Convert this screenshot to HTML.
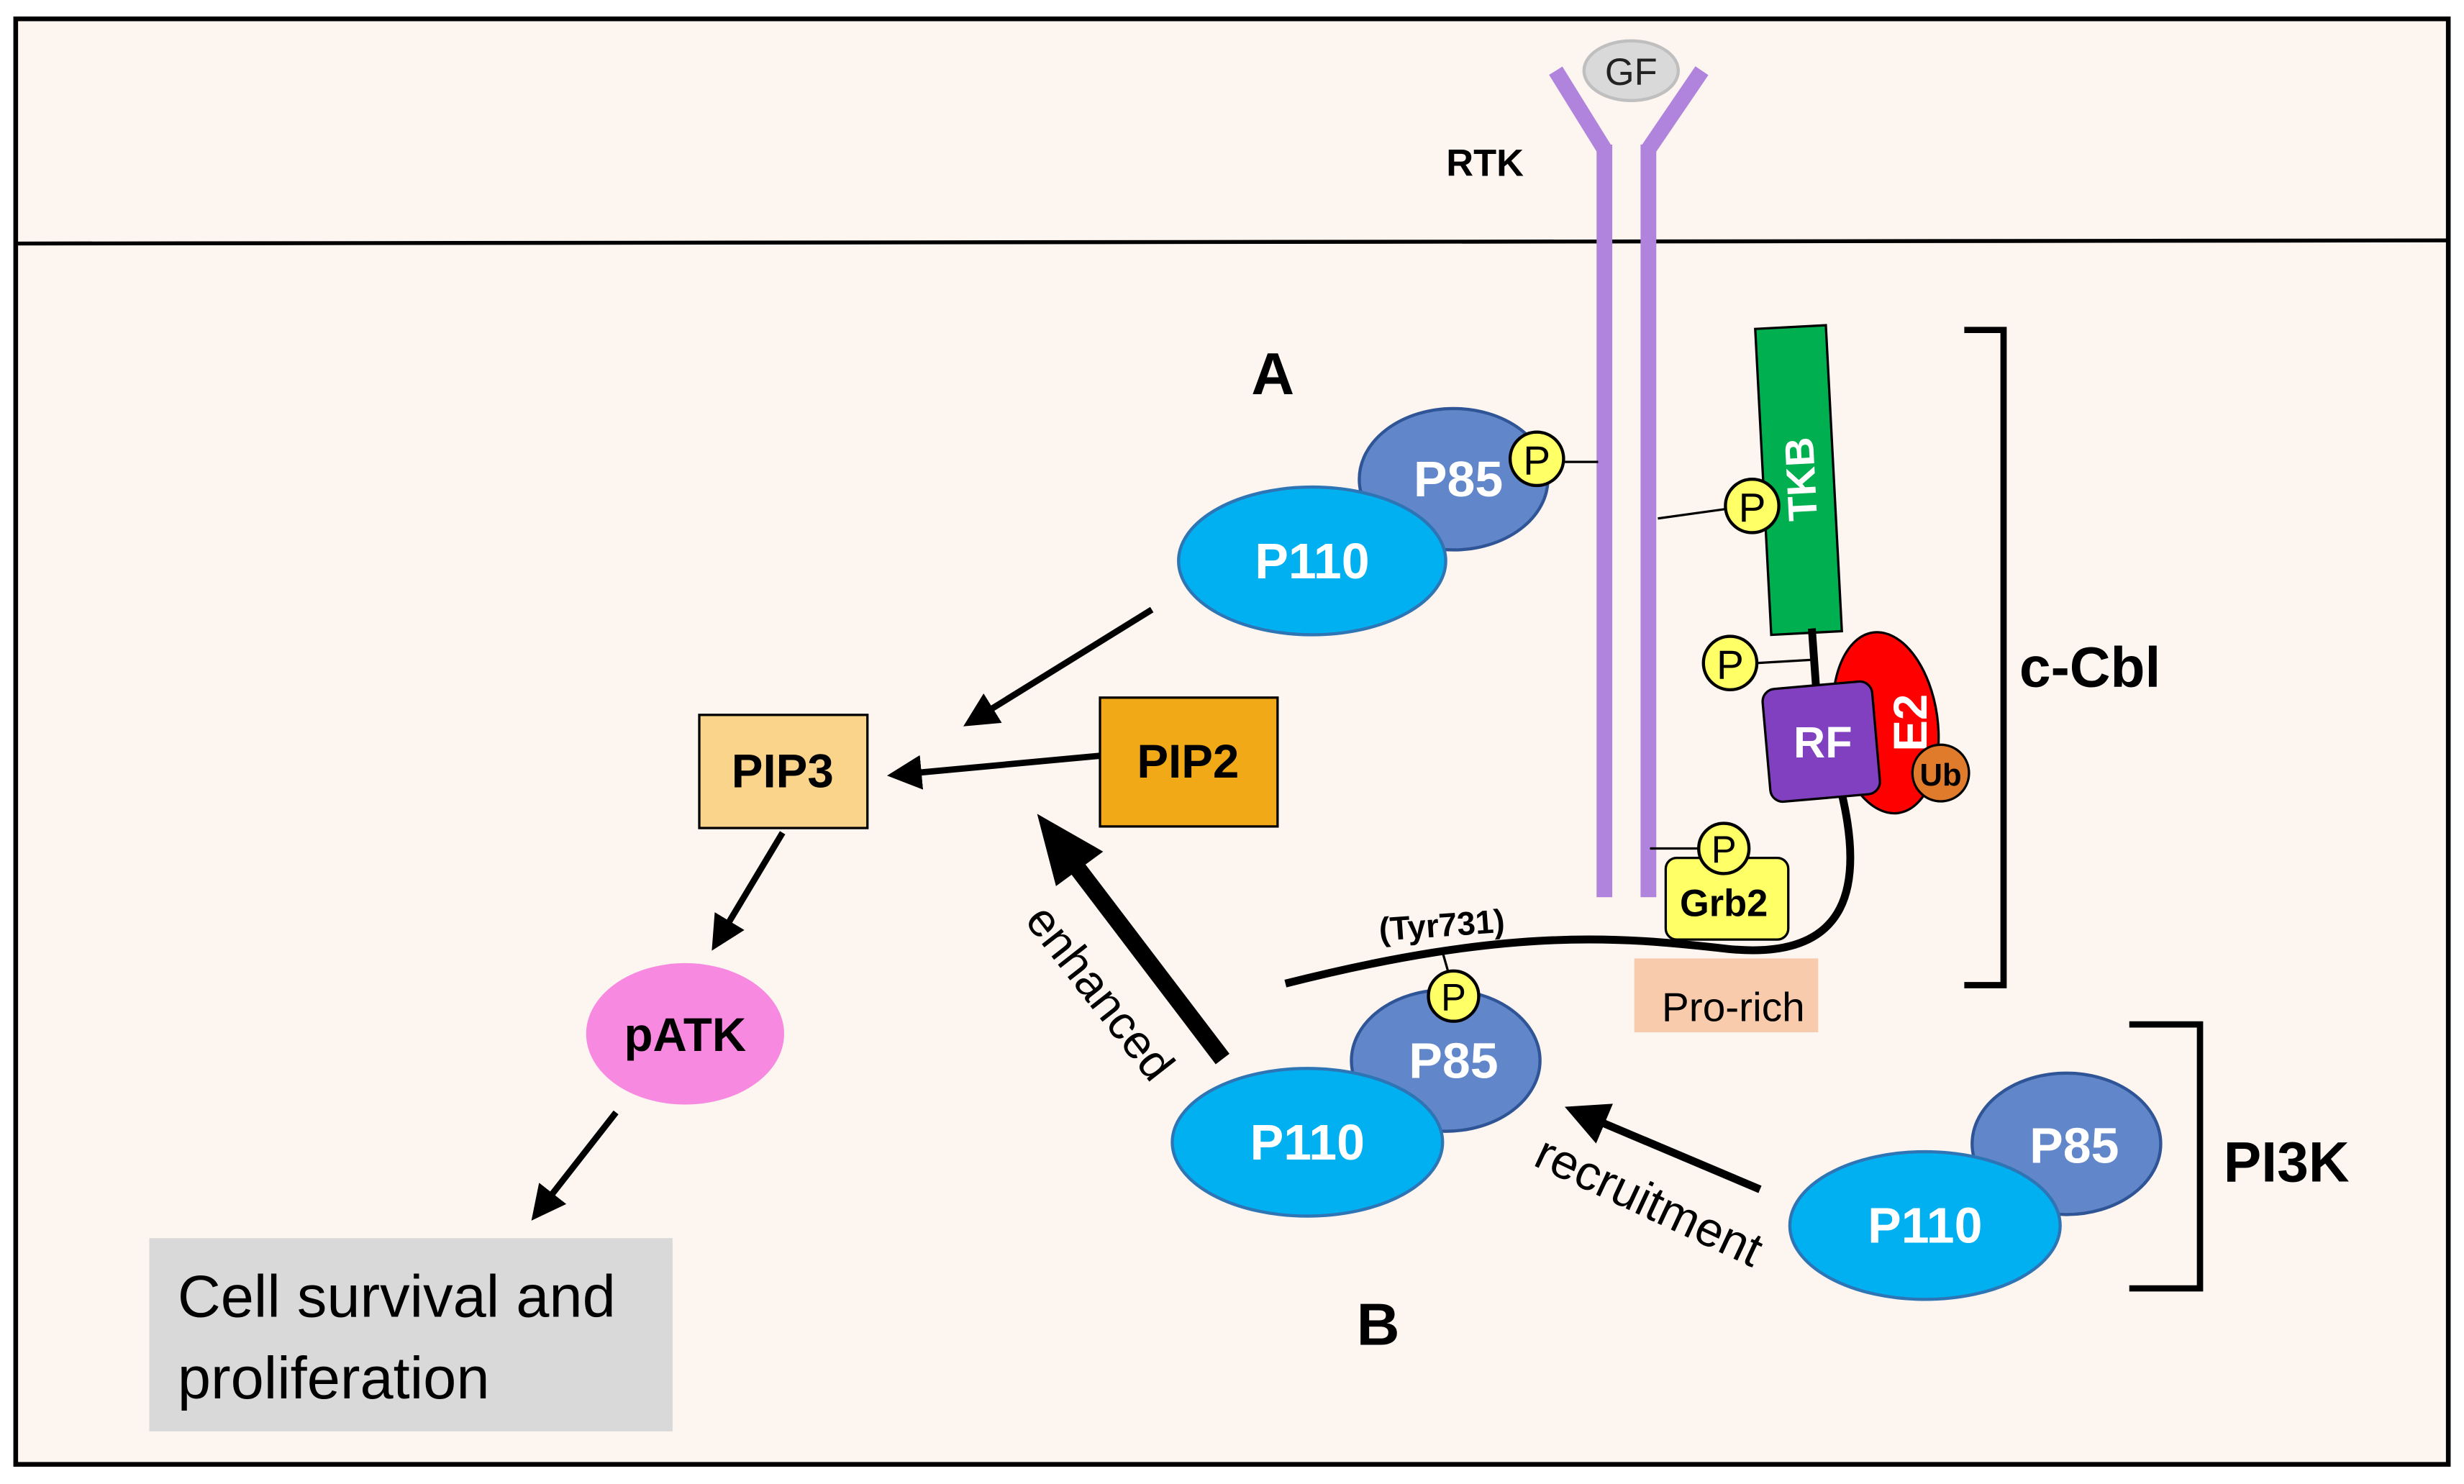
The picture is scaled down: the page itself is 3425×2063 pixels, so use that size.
<!DOCTYPE html>
<html><head><meta charset="utf-8"><style>
html,body{margin:0;padding:0;background:#fff;}
svg{display:block;}
text{font-family:"Liberation Sans Narrow","Liberation Sans",sans-serif;}
</style></head><body>
<svg width="3425" height="2063" viewBox="0 0 1568 944.5" preserveAspectRatio="none" xmlns="http://www.w3.org/2000/svg">
<defs>
<marker id="ah" viewBox="0 0 10 10" refX="2" refY="5" markerWidth="5.5" markerHeight="5.5" orient="auto" markerUnits="strokeWidth"><path d="M0,0L10,5L0,10z" fill="#000"/></marker>
</defs>
<rect x="0" y="0" width="1568" height="944.5" fill="#fff"/>
<rect x="10" y="12" width="1548" height="920" fill="#fdf5f0" stroke="#000" stroke-width="3"/>
<line x1="10" y1="155" x2="1558" y2="153" stroke="#000" stroke-width="2.5"/>

<g stroke="#b084dc" stroke-width="10" fill="none">
<line x1="1021" y1="92" x2="1021" y2="571"/>
<line x1="1049" y1="92" x2="1049" y2="571"/>
<polyline points="990,45 1021,95"/>
<polyline points="1083,45 1049,95"/>
</g>
<ellipse cx="1038" cy="45" rx="30" ry="19" fill="#d9d9d9" stroke="#bfbfbf" stroke-width="2"/>
<text x="1038" y="54" font-size="24" text-anchor="middle" fill="#222">GF</text>
<text x="945" y="112" font-size="24" font-weight="bold" text-anchor="middle">RTK</text>
<text x="810" y="251" font-size="38" font-weight="bold" text-anchor="middle">A</text>

<ellipse cx="925" cy="305" rx="60" ry="45" fill="#6186c9" stroke="#2f5597" stroke-width="2"/>
<ellipse cx="835" cy="357" rx="85" ry="47" fill="#00b0f0" stroke="#2e75b6" stroke-width="2"/>
<text x="928" y="316" font-size="32" font-weight="bold" fill="#fff" text-anchor="middle">P85</text>
<text x="835" y="368" font-size="32" font-weight="bold" fill="#fff" text-anchor="middle">P110</text>
<line x1="995" y1="294" x2="1017" y2="294" stroke="#000" stroke-width="1.5"/>
<circle cx="978" cy="292" r="17" fill="#ffff66" stroke="#000" stroke-width="2"/>
<text x="978" y="302" font-size="26" text-anchor="middle">P</text>

<g transform="rotate(-3 1145 305)">
<rect x="1122" y="208" width="45" height="195" fill="#00b050" stroke="#000" stroke-width="1.5"/>
<text transform="translate(1155 305) rotate(-90)" font-size="26" font-weight="bold" fill="#fff" text-anchor="middle">TKB</text>
</g>
<line x1="1055" y1="330" x2="1098" y2="324" stroke="#000" stroke-width="1.5"/>
<circle cx="1115" cy="322" r="17" fill="#ffff66" stroke="#000" stroke-width="2"/>
<text x="1115" y="332" font-size="26" text-anchor="middle">P</text>
<line x1="1153" y1="400" x2="1156" y2="442" stroke="#000" stroke-width="5"/>
<line x1="1118" y1="422" x2="1152" y2="420" stroke="#000" stroke-width="1.5"/>
<circle cx="1101" cy="422" r="17" fill="#ffff66" stroke="#000" stroke-width="2"/>
<text x="1101" y="432" font-size="26" text-anchor="middle">P</text>
<path d="M1172,505 C1185,560 1180,612 1100,604 C1030,596 960,590 818,626" fill="none" stroke="#000" stroke-width="5"/>
<ellipse cx="1200" cy="460" rx="33" ry="58" transform="rotate(-8 1200 460)" fill="#ff0000" stroke="#000" stroke-width="1.5"/>
<text transform="translate(1226 460) rotate(-90)" font-size="30" font-weight="bold" fill="#fff" text-anchor="middle">E2</text>
<rect x="1124" y="436" width="70" height="72" rx="8" transform="rotate(-5 1159 472)" fill="#8040c0" stroke="#000" stroke-width="1.5"/>
<text x="1160" y="482" font-size="28" font-weight="bold" fill="#fff" text-anchor="middle">RF</text>
<circle cx="1235" cy="492" r="18" fill="#e07b2c" stroke="#000" stroke-width="1.5"/>
<text x="1235" y="500" font-size="20" font-weight="bold" fill="#000" text-anchor="middle">Ub</text>
<rect x="1060" y="546" width="78" height="52" rx="7" fill="#ffff66" stroke="#000" stroke-width="1.5"/>
<text x="1097" y="583" font-size="24" font-weight="bold" text-anchor="middle">Grb2</text>
<line x1="1050" y1="540" x2="1081" y2="540" stroke="#000" stroke-width="1.5"/>
<circle cx="1097" cy="540" r="16" fill="#ffff66" stroke="#000" stroke-width="2"/>
<text x="1097" y="549" font-size="24" text-anchor="middle">P</text>
<rect x="1040" y="610" width="117" height="47" fill="#f8cbad"/>
<text x="1103" y="650" font-size="26" text-anchor="middle">Pro-rich</text>
<text transform="translate(918 596) rotate(-4)" font-size="21" font-weight="bold" text-anchor="middle">(Tyr731)</text>
<polyline points="1250,210 1275,210 1275,627 1250,627" fill="none" stroke="#000" stroke-width="4"/>
<text x="1285" y="437" font-size="36" font-weight="bold">c-Cbl</text>

<line x1="918" y1="606" x2="922" y2="620" stroke="#000" stroke-width="1.5"/>
<ellipse cx="920" cy="675" rx="60" ry="45" fill="#6186c9" stroke="#2f5597" stroke-width="2"/>
<circle cx="925" cy="634" r="16" fill="#ffff66" stroke="#000" stroke-width="2"/>
<text x="925" y="643" font-size="24" text-anchor="middle">P</text>
<ellipse cx="832" cy="727" rx="86" ry="47" fill="#00b0f0" stroke="#2e75b6" stroke-width="2"/>
<text x="925" y="686" font-size="32" font-weight="bold" fill="#fff" text-anchor="middle">P85</text>
<text x="832" y="738" font-size="32" font-weight="bold" fill="#fff" text-anchor="middle">P110</text>
<text x="877" y="856" font-size="38" font-weight="bold" text-anchor="middle">B</text>

<ellipse cx="1315" cy="728" rx="60" ry="45" fill="#6186c9" stroke="#2f5597" stroke-width="2"/>
<ellipse cx="1225" cy="780" rx="86" ry="47" fill="#00b0f0" stroke="#2e75b6" stroke-width="2"/>
<text x="1320" y="740" font-size="32" font-weight="bold" fill="#fff" text-anchor="middle">P85</text>
<text x="1225" y="791" font-size="32" font-weight="bold" fill="#fff" text-anchor="middle">P110</text>
<polyline points="1355,652 1400,652 1400,820 1355,820" fill="none" stroke="#000" stroke-width="4"/>
<text x="1415" y="752" font-size="36" font-weight="bold">PI3K</text>

<line x1="1120" y1="757" x2="1016" y2="713" stroke="#000" stroke-width="5" marker-end="url(#ah)"/>
<text transform="translate(1045 774) rotate(25)" font-size="31" text-anchor="middle">recruitment</text>
<line x1="778" y1="674" x2="686" y2="553" stroke="#000" stroke-width="11"/>
<path d="M660,518 L702,542 L672,564 z" fill="#000"/>
<text transform="translate(692 638) rotate(52)" font-size="30" text-anchor="middle">enhanced</text>

<line x1="733" y1="388" x2="628" y2="453" stroke="#000" stroke-width="4" marker-end="url(#ah)"/>
<rect x="700" y="444" width="113" height="82" fill="#f2a918" stroke="#000" stroke-width="1.5"/>
<text x="756" y="495" font-size="30" font-weight="bold" text-anchor="middle">PIP2</text>
<rect x="445" y="455" width="107" height="72" fill="#f9d48a" stroke="#000" stroke-width="1.5"/>
<text x="498" y="501" font-size="30" font-weight="bold" text-anchor="middle">PIP3</text>
<line x1="700" y1="481" x2="582" y2="492" stroke="#000" stroke-width="4" marker-end="url(#ah)"/>
<line x1="498" y1="530" x2="462" y2="590" stroke="#000" stroke-width="4" marker-end="url(#ah)"/>
<ellipse cx="436" cy="658" rx="63" ry="45" fill="#f78ae0"/>
<text x="436" y="669" font-size="30" font-weight="bold" text-anchor="middle">pATK</text>
<line x1="392" y1="708" x2="349" y2="763" stroke="#000" stroke-width="4" marker-end="url(#ah)"/>
<rect x="95" y="788" width="333" height="123" fill="#d9d9d9"/>
<text x="113" y="838" font-size="38">Cell survival and</text>
<text x="113" y="890" font-size="38">proliferation</text>
</svg>
</body></html>
